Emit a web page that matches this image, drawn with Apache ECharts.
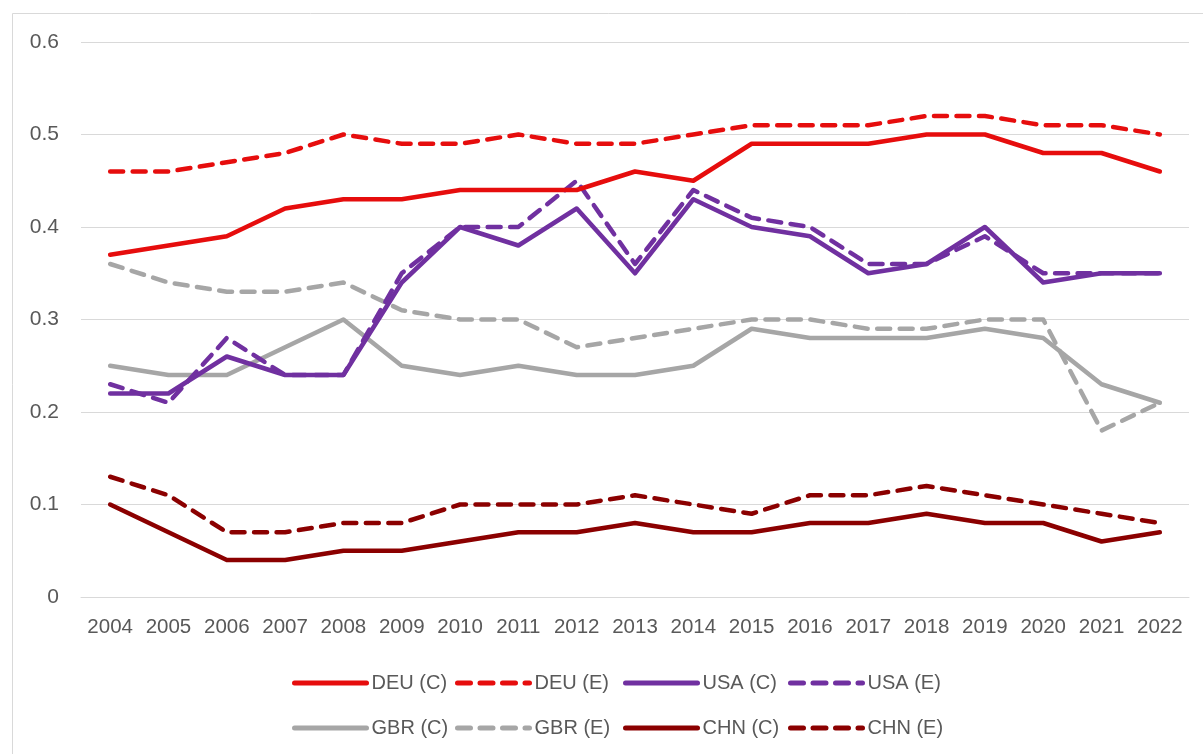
<!DOCTYPE html>
<html><head><meta charset="utf-8">
<script src="https://cdn.jsdelivr.net/npm/echarts@6/dist/echarts.min.js"></script>
<style>html,body{margin:0;padding:0;background:#fff}#c{width:1203px;height:754px}</style>
</head><body><div id="c"></div>
<script>
const years = ['2004','2005','2006','2007','2008','2009','2010','2011','2012','2013','2014','2015','2016','2017','2018','2019','2020','2021','2022'];
const yTicks = [0, 0.1, 0.2, 0.3, 0.4, 0.5, 0.6];
const deuC = [0.37,0.38,0.39,0.42,0.43,0.43,0.44,0.44,0.44,0.46,0.45,0.49,0.49,0.49,0.50,0.50,0.48,0.48,0.46];
const deuE = [0.46,0.46,0.47,0.48,0.50,0.49,0.49,0.50,0.49,0.49,0.50,0.51,0.51,0.51,0.52,0.52,0.51,0.51,0.50];
const usaC = [0.22,0.22,0.26,0.24,0.24,0.34,0.40,0.38,0.42,0.35,0.43,0.40,0.39,0.35,0.36,0.40,0.34,0.35,0.35];
const usaE = [0.23,0.21,0.28,0.24,0.24,0.35,0.40,0.40,0.45,0.36,0.44,0.41,0.40,0.36,0.36,0.39,0.35,0.35,0.35];
const gbrC = [0.25,0.24,0.24,0.27,0.30,0.25,0.24,0.25,0.24,0.24,0.25,0.29,0.28,0.28,0.28,0.29,0.28,0.23,0.21];
const gbrE = [0.36,0.34,0.33,0.33,0.34,0.31,0.30,0.30,0.27,0.28,0.29,0.30,0.30,0.29,0.29,0.30,0.30,0.18,0.21];
const chnC = [0.10,0.07,0.04,0.04,0.05,0.05,0.06,0.07,0.07,0.08,0.07,0.07,0.08,0.08,0.09,0.08,0.08,0.06,0.07];
const chnE = [0.13,0.11,0.07,0.07,0.08,0.08,0.10,0.10,0.10,0.11,0.10,0.09,0.11,0.11,0.12,0.11,0.10,0.09,0.08];

const names = ['DEU (C)','DEU (E)','USA (C)','USA (E)','GBR (C)','GBR (E)','CHN (C)','CHN (E)'];
const datas = [deuC, deuE, usaC, usaE, gbrC, gbrE, chnC, chnE];
const colors = ['#e60d0d','#e60d0d','#7030a0','#7030a0','#a6a6a6','#a6a6a6','#8b0000','#8b0000'];

const series = names.map((n, i) => ({
  name: n, type: 'line', data: datas[i], symbol: 'none', silent: true,
  lineStyle: { color: colors[i], width: 4.5, type: (i % 2) ? [13, 9.5] : 'solid', cap: 'round', join: 'round' },
  itemStyle: { color: colors[i] },
  z: 10 - i
}));

const legendText = { fontFamily: '"Liberation Sans", Arial, sans-serif', fontSize: 20, color: '#595959' };
const cols = [[0,4],[1,5],[2,6],[3,7]];
const colLeft = [292, 455, 623, 788];
const legends = cols.map((c, k) => ({
  data: c.map(i => names[i]), orient: 'vertical', left: colLeft[k], top: 673,
  itemWidth: 72, itemHeight: 14, itemGap: 25, padding: 0,
  textStyle: legendText, selectedMode: false,
  itemStyle: { opacity: 0 },
  lineStyle: { width: 5, cap: 'round' }
}));

const chart = echarts.init(document.getElementById('c'), null, { renderer: 'canvas' });
chart.setOption({
  animation: false,
  backgroundColor: '#fff',
  graphic: [{ type: 'rect', shape: { x: 12.5, y: 13.5, width: 1200, height: 760 }, style: { fill: 'none', stroke: '#d9d9d9', lineWidth: 1 }, silent: true }],
  grid: { left: 81, right: 14, top: 42, bottom: 157, containLabel: false },
  legend: legends,
  xAxis: {
    type: 'category', data: years, boundaryGap: true,
    axisLine: { show: true, lineStyle: { color: '#d9d9d9', width: 1 } },
    axisTick: { show: false },
    axisLabel: { interval: 0, hideOverlap: false, color: '#595959', fontSize: 20.5, margin: 20, fontFamily: '"Liberation Sans", Arial, sans-serif' }
  },
  yAxis: {
    type: 'value', min: 0, max: 0.6, interval: 0.1,
    axisLine: { show: false }, axisTick: { show: false },
    splitLine: { lineStyle: { color: '#d9d9d9', width: 1 } },
    axisLabel: { color: '#595959', fontSize: 21, margin: 22, fontFamily: '"Liberation Sans", Arial, sans-serif',
      formatter: v => { const t = yTicks.find(x => Math.abs(x - v) < 1e-9); return t === 0 ? '0' : String(+(t !== undefined ? t : v).toFixed(1)); } }
  },
  series
});
</script></body></html>
